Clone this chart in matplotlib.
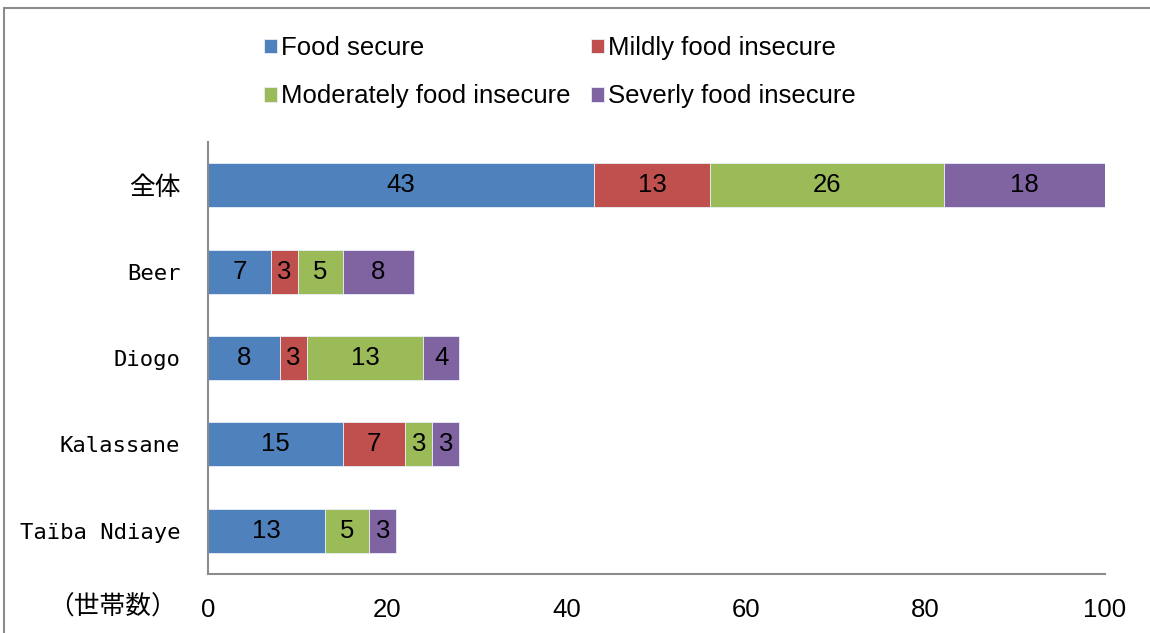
import matplotlib.pyplot as plt
from matplotlib.patches import Rectangle
import numpy as np

# data
categories = ["全体", "Beer", "Diogo", "Kalassane", "Taïba Ndiaye"]
series_names = ["Food secure", "Mildly food insecure",
                "Moderately food insecure", "Severly food insecure"]
food_secure = [43, 7, 8, 15, 13]
mildly = [13, 3, 3, 7, 0]
moderately = [26, 5, 13, 3, 5]
severely = [18, 8, 4, 3, 3]
x_ticks = [0, 20, 40, 60, 80, 100]

colors = ["#4F81BD", "#C0504D", "#9BBB59", "#8064A2"]

plt.rcParams['font.family'] = ['Liberation Sans', 'Noto Sans CJK JP']

fig = plt.figure(figsize=(11.5, 6.33), dpi=100)
ax = fig.add_axes([0.1809, 0.0932, 0.78, 0.6825])

y = np.arange(len(categories))
left = np.zeros(len(categories))
for name, vals, col in zip(series_names, [food_secure, mildly, moderately, severely], colors):
    vals = np.array(vals)
    bars = ax.barh(y, vals, left=left, height=0.51, color=col, label=name,
                   edgecolor="#e8eef7", linewidth=0.6)
    labs = [str(v) if v > 0 else "" for v in vals]
    ax.bar_label(bars, labels=labs, label_type="center", fontsize=18.5, color="black")
    left += vals

ax.set_ylim(len(categories) - 0.5, -0.5)
ax.set_xlim(0, 100)
ax.set_xticks(x_ticks)
ax.set_yticks(y)
ax.set_yticklabels(categories, family=['DejaVu Sans Mono', 'Noto Sans CJK JP'], fontsize=16)
for t in ax.get_yticklabels():
    if t.get_text() == "全体":
        t.set_fontsize(18.5)
ax.tick_params(axis='x', length=0, pad=17, labelsize=18.5)
ax.tick_params(axis='y', length=0, pad=20)
for s in ["top", "right"]:
    ax.spines[s].set_visible(False)
for s in ["left", "bottom"]:
    ax.spines[s].set_color("#8c8c8c")
    ax.spines[s].set_linewidth(1.5)

fig.text(0.042, 0.041, "（世帯数）", fontsize=18.5, family=['Noto Sans CJK JP'],
         va="center", ha="left")

# row-major legend order
h, l = ax.get_legend_handles_labels()
order = [0, 2, 1, 3]
fig.legend([h[i] for i in order], [l[i] for i in order],
           loc="center", bbox_to_anchor=(0.4868, 0.886), ncol=2, frameon=False,
           fontsize=18.5, handlelength=0.5, handleheight=0.5, handletextpad=0.15,
           columnspacing=0.8, labelspacing=0.95)

fig.patches.append(Rectangle((4 / 1150, -0.1), 1.2, 1 - 8 / 633 + 0.1,
                             transform=fig.transFigure, fill=False,
                             edgecolor="#8c8c8c", linewidth=1.5))

fig.savefig("out.png", dpi=100)
